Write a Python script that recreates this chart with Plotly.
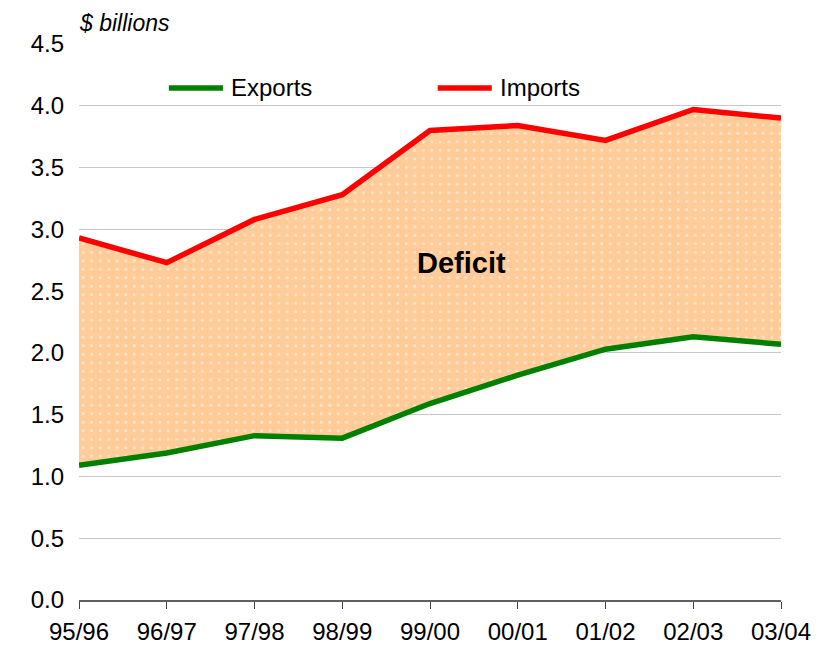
import plotly.graph_objects as go

years = ["95/96", "96/97", "97/98", "98/99", "99/00", "00/01", "01/02", "02/03", "03/04"]
exports = [1.09, 1.19, 1.33, 1.31, 1.59, 1.82, 2.03, 2.13, 2.07]
imports = [2.93, 2.73, 3.08, 3.28, 3.80, 3.84, 3.72, 3.97, 3.90]
y_ticks = [0.0, 0.5, 1.0, 1.5, 2.0, 2.5, 3.0, 3.5, 4.0, 4.5]
series_names = ["Exports", "Imports"]
series_colors = ["#008000", "#FF0000"]

FONT = "Liberation Sans, Arial, sans-serif"

fig = go.Figure()
# deficit area between the two series
fig.add_trace(go.Scatter(x=years, y=exports, mode="lines", line=dict(width=0),
                         showlegend=False, hoverinfo="skip"))
fig.add_trace(go.Scatter(x=years, y=imports, mode="lines", line=dict(width=0),
                         fill="tonexty", fillcolor="#FFCC99",
                         fillpattern=dict(shape=".", fgcolor="#FFFFFF", bgcolor="#FFCC99",
                                          size=8.5, solidity=0.1),
                         showlegend=False, hoverinfo="skip"))
# lines
for name, vals, col in zip(series_names, [exports, imports], series_colors):
    fig.add_trace(go.Scatter(x=years, y=vals, mode="lines", name=name,
                             line=dict(color=col, width=5.5), showlegend=False))

# custom legend (long line samples like the reference)
legend_x = [0.128, 0.511]
legend_y = 0.921
for name, col, lx in zip(series_names, series_colors, legend_x):
    fig.add_shape(type="line", xref="paper", yref="paper", x0=lx, x1=lx + 0.077,
                  y0=legend_y, y1=legend_y, line=dict(color=col, width=5.5))
    fig.add_annotation(x=lx + 0.086, y=legend_y, xref="paper", yref="paper",
                       xanchor="left", yanchor="middle", text=name, showarrow=False,
                       font=dict(family=FONT, size=24, color="#000000"))

fig.add_annotation(x=4.36, y=2.73, xref="x", yref="y", text="<b>Deficit</b>",
                   showarrow=False, font=dict(family=FONT, size=29, color="#000000"))
fig.add_annotation(x=-0.003, y=1.0, xref="paper", yref="paper", yanchor="bottom",
                   xanchor="left", yshift=6, text="<i>$ billions</i>", showarrow=False,
                   font=dict(family=FONT, size=23, color="#000000"))

fig.update_layout(
    width=835, height=647,
    margin=dict(l=71, r=62, t=36, b=55, autoexpand=False),
    paper_bgcolor="white", plot_bgcolor="white",
    font=dict(family=FONT, size=24, color="#000000"),
    showlegend=False,
    xaxis=dict(type="category", range=[0, 8], showgrid=False, showline=True,
               linecolor="#606060", linewidth=1.5, ticks="outside", ticklen=7,
               tickcolor="#404040", tickwidth=1, tickfont=dict(size=24),
               ticklabelstandoff=2, zeroline=False),
    yaxis=dict(range=[0, 4.5], tickvals=y_ticks, ticktext=[f"{v:.1f}" for v in y_ticks],
               showgrid=True, gridcolor="#C8C8C8", gridwidth=1, showline=False,
               zeroline=False, ticks="", tickfont=dict(size=24),
               ticklabelstandoff=14),
)

fig.write_html("out.html")
